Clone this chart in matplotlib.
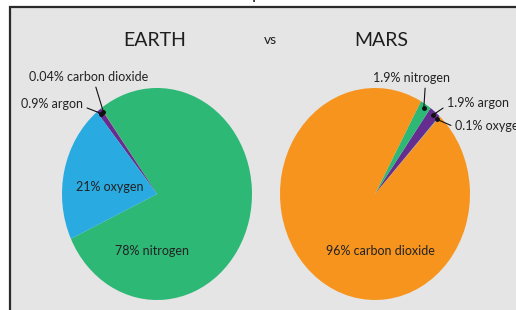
import matplotlib.pyplot as plt
import numpy as np
from matplotlib.patches import Rectangle

# data
earth_gases = ['nitrogen', 'carbon dioxide', 'argon', 'oxygen']
earth_pct = [78, 0.04, 0.9, 21]
earth_lbl = ['78%', '0.04%', '0.9%', '21%']
mars_gases = ['oxygen', 'argon', 'nitrogen', 'carbon dioxide']
mars_pct = [0.1, 1.9, 1.9, 96]
mars_lbl = ['0.1%', '1.9%', '1.9%', '96%']

colors = {'nitrogen': '#2db876', 'oxygen': '#29aae1',
          'argon': '#662d91', 'carbon dioxide': '#f7941e'}

W, H = 516, 310
plt.rcParams['font.family'] = ['Lato', 'DejaVu Sans']
fig = plt.figure(figsize=(W / 100, H / 100), dpi=100)
fig.patch.set_facecolor('white')


def px(x, y):
    # pixel coords from top-left -> figure fraction
    return x / W, 1 - y / H


# grey panel with dark border on the left/top
fig.patches.append(Rectangle(px(10, 330), 540 / W, 323 / H, transform=fig.transFigure,
                             facecolor='#e5e5e5', edgecolor='#2a2a2a', lw=1.6, zorder=-5))
# cut-off title above
fig.text(0.497, 1 + 1 / H, 'p', fontsize=13, va='baseline', ha='center', color='#222')

fig.text(*px(155, 46), 'EARTH', fontsize=14, ha='center', va='baseline', color='#1e1e1e')
fig.text(*px(270, 44), 'vs', fontsize=10, ha='center', va='baseline', color='#1e1e1e')
fig.text(*px(381, 46), 'MARS', fontsize=14, ha='center', va='baseline', color='#1e1e1e')


def make_pie(left, top, right, bottom, vals, gases, start):
    x0, y1 = px(left, top)
    x1, y0 = px(right, bottom)
    ax = fig.add_axes([x0, y0, x1 - x0, y1 - y0])
    ax.patch.set_alpha(0)
    wedges, _ = ax.pie(vals, colors=[colors[g] for g in gases], startangle=start,
                       counterclock=True, wedgeprops=dict(linewidth=0))
    ax.set_aspect('auto')
    ax.set_xlim(-1, 1)
    ax.set_ylim(-1, 1)
    ax.axis('off')
    return ax, wedges


def point(w, r=0.96):
    a = np.deg2rad((w.theta1 + w.theta2) / 2)
    return r * np.cos(a), r * np.sin(a)


ax_e, w_e = make_pie(62, 88, 252, 300, earth_pct, earth_gases, 205)
ax_m, w_m = make_pie(280, 88, 470, 300, mars_pct, mars_gases, 47)

tk = dict(fontsize=9, color='#222')

# inside labels
fig.text(*px(152, 251), f'{earth_lbl[0]} {earth_gases[0]}', ha='center', va='center', **tk)
fig.text(*px(110, 187), f'{earth_lbl[3]} {earth_gases[3]}', ha='center', va='center', **tk)
fig.text(*px(380, 251), f'{mars_lbl[3]} {mars_gases[3]}', ha='center', va='center', **tk)


def callout(ax, w, text, xy_px, relpos):
    p = point(w)
    ax.annotate(text, xy=p, xycoords='data', xytext=px(*xy_px), textcoords='figure fraction',
                ha='left', va='center', annotation_clip=False,
                arrowprops=dict(arrowstyle='-', color='#111', lw=0.8, relpos=relpos,
                                shrinkA=1, shrinkB=0), **tk)
    ax.plot(*p, 'o', color='#111', ms=2.5, clip_on=False)


callout(ax_e, w_e[1], f'{earth_lbl[1]} {earth_gases[1]}', (29, 77), (0.55, 0))
callout(ax_e, w_e[2], f'{earth_lbl[2]} {earth_gases[2]}', (21, 104), (1, 0.3))
callout(ax_m, w_m[2], f'{mars_lbl[2]} {mars_gases[2]}', (373, 78), (0.68, 0))
callout(ax_m, w_m[1], f'{mars_lbl[1]} {mars_gases[1]}', (447, 103), (0, 0.3))
callout(ax_m, w_m[0], f'{mars_lbl[0]} {mars_gases[0]}', (455, 126), (0, 0.4))

fig.savefig('out.png', dpi=100)
